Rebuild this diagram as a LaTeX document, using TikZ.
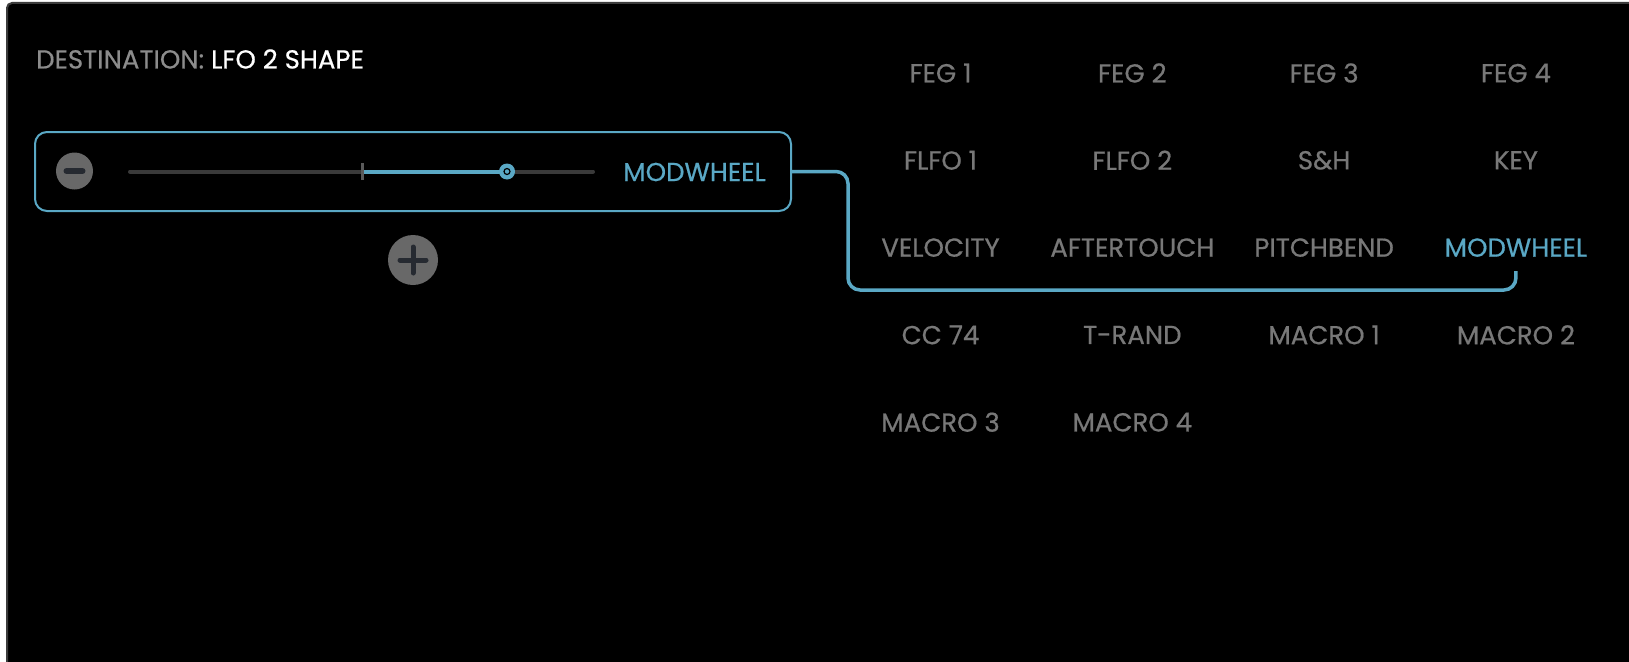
\documentclass[tikz,border=0pt]{standalone}
\usepackage{fontspec}
\setmainfont{Poppins}[FakeBold=0.6]
\usetikzlibrary{positioning}
\definecolor{modblue}{HTML}{5AA8C5}
\definecolor{srcgray}{HTML}{787878}
\definecolor{hdrgray}{HTML}{8C8C8C}
\definecolor{btngray}{HTML}{686868}
\definecolor{btnmark}{HTML}{262A31}
\definecolor{trackgray}{HTML}{3A3A3A}
\definecolor{tickgray}{HTML}{5A5A5A}
\definecolor{framegray}{HTML}{3C3C3C}
\begin{document}
\begin{tikzpicture}[x=1pt, y=-1pt,
		src/.style={text=srcgray, inner sep=0pt, font=\fontsize{26}{26}\selectfont},
		srcsel/.style={src, text=modblue},
		destbox/.style={draw=modblue, line width=2pt, rounded corners=12pt, minimum width=756pt, minimum height=79pt},
		button/.style={circle, fill=btngray, inner sep=0pt},
		link/.style={draw=modblue, line width=3.5pt, rounded corners=12pt}]
		\useasboundingbox (0,0) rectangle (1629,661);
		\fill[white] (0,0) rectangle (1629,661);
		\begin{scope}
			\clip (0,0) rectangle (1629,661);
			\draw[framegray, line width=2pt, fill=black, rounded corners=5pt] (7,3) rectangle (1650,680);
		\end{scope}
		% destination panel
		\node[src, anchor=west] (header) at (36,59) {{\color{hdrgray}DESTINATION:} \textcolor{white}{LFO 2 SHAPE}};
		\node[destbox] (dest) at (413,171.5) {};
		\node[srcsel] (destlabel) at (694.5,172) {MODWHEEL};
		\node[button, minimum size=37pt] (minus) at (74.5,171) {};
		\draw[btnmark, line width=6pt, line cap=round] ([xshift=-8pt]minus.center) -- ([xshift=8pt]minus.center);
		\node[button, minimum size=50pt] (plus) at (413,260) {};
		\draw[btnmark, line width=5pt, line cap=round] ([xshift=-13pt]plus.center) -- ([xshift=13pt]plus.center)
		([yshift=-13pt]plus.center) -- ([yshift=13pt]plus.center);
		% slider
		\coordinate (trackl) at (130,171.5);
		\coordinate (trackr) at (593,171.5);
		\coordinate (zero) at (362,171.5);
		\coordinate (knob) at (507,171.5);
		\draw[trackgray, line width=4pt, line cap=round] (trackl) -- (trackr);
		\draw[modblue, line width=4pt] (zero) -- (knob);
		\draw[tickgray, line width=3pt] ([yshift=-8.5pt]zero) -- ([yshift=8.5pt]zero);
		\fill[modblue] (knob) circle (8pt);
		\draw[black, line width=1.2pt] (knob) circle (3pt);
		% sources
		\node[src] (feg1) at (940.5,73) {FEG 1};
		\node[src] (feg2) at (1132.3,73) {FEG 2};
		\node[src] (feg3) at (1324.1,73) {FEG 3};
		\node[src] (feg4) at (1515.9,73) {FEG 4};
		\node[src] (flfo1) at (940.5,160.3) {FLFO 1};
		\node[src] (flfo2) at (1132.3,160.3) {FLFO 2};
		\node[src] (sh) at (1324.1,160.3) {S\&H};
		\node[src] (key) at (1515.9,160.3) {KEY};
		\node[src] (vel) at (940.5,247.6) {VELOCITY};
		\node[src] (at) at (1132.3,247.6) {AFTERTOUCH};
		\node[src] (pb) at (1324.1,247.6) {PITCHBEND};
		\node[srcsel] (mw) at (1515.9,247.6) {MODWHEEL};
		\node[src] (cc74) at (940.5,334.9) {CC 74};
		\node[src] (trand) at (1132.3,334.9) {T-RAND};
		\node[src] (macro1) at (1324.1,334.9) {MACRO 1};
		\node[src] (macro2) at (1515.9,334.9) {MACRO 2};
		\node[src] (macro3) at (940.5,422.2) {MACRO 3};
		\node[src] (macro4) at (1132.3,422.2) {MACRO 4};
		% routing
		\coordinate (bend) at (848,290);
		\coordinate[below=14pt of mw] (mwtap);
		\path[link] (dest.east) -| (bend) -| (mwtap);
	\end{tikzpicture}
\end{document}
